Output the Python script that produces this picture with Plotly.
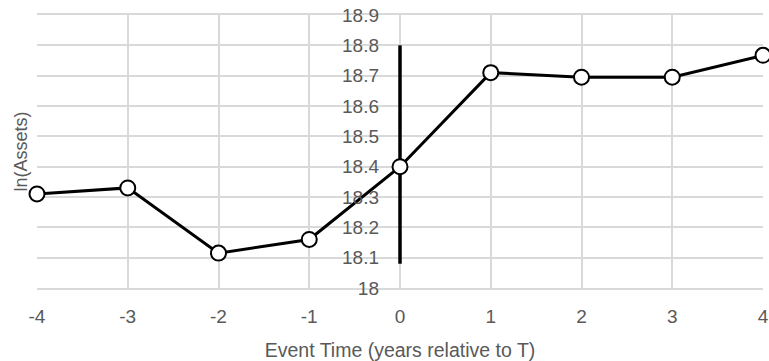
import plotly.graph_objects as go

event_time = [-4, -3, -2, -1, 0, 1, 2, 3, 4]
ln_assets = [18.31, 18.33, 18.115, 18.16, 18.40, 18.71, 18.695, 18.695, 18.767]
vline_x = [0, 0]
vline_y = [18.08, 18.80]
x_ticks = [-4, -3, -2, -1, 0, 1, 2, 3, 4]
x_tick_labels = ["-4", "-3", "-2", "-1", "0", "1", "2", "3", "4"]
y_ticks = [18, 18.1, 18.2, 18.3, 18.4, 18.5, 18.6, 18.7, 18.8, 18.9]
y_tick_labels = ["18", "18.1", "18.2", "18.3", "18.4", "18.5", "18.6", "18.7", "18.8", "18.9"]

FONT = "Liberation Sans, Arial, sans-serif"
GRAY = "#595959"

fig = go.Figure()
fig.add_trace(go.Scatter(x=vline_x, y=vline_y, mode="lines",
                         line=dict(color="black", width=3.5),
                         hoverinfo="skip", showlegend=False))
fig.add_trace(go.Scatter(x=event_time, y=ln_assets, mode="lines+markers",
                         line=dict(color="black", width=3),
                         marker=dict(size=15, color="white",
                                     line=dict(color="black", width=2)),
                         cliponaxis=False, showlegend=False))

fig.update_layout(
    width=769, height=361,
    margin=dict(l=37, r=6, t=15, b=73),
    plot_bgcolor="white", paper_bgcolor="white",
    font=dict(family=FONT, color=GRAY, size=19),
    xaxis=dict(range=[-4, 4], tickvals=x_ticks, ticktext=x_tick_labels,
               showgrid=True, gridcolor="#d9d9d9", gridwidth=1.5,
               zeroline=False, showline=True, linecolor="#d9d9d9",
               linewidth=1.5, ticks="", ticklabelstandoff=10,
               ticklabeloverflow="allow", automargin=False,
               tickfont=dict(size=19, color=GRAY),
               title=dict(text="Event Time (years relative to T)",
                          font=dict(size=19.5, color=GRAY), standoff=19),
               mirror=True),
    yaxis=dict(range=[18, 18.9], tickvals=y_ticks, ticktext=y_tick_labels,
               showgrid=True, gridcolor="#d9d9d9", gridwidth=1.5,
               zeroline=False, showline=False, anchor="free", position=0.5,
               ticks="", ticklabelstandoff=21, automargin=False,
               ticklabeloverflow="allow",
               tickfont=dict(size=19, color=GRAY)),
    annotations=[dict(text="ln(Assets)", xref="paper", yref="paper",
                      x=-0.0234, y=0.5, xanchor="center", yanchor="middle",
                      textangle=-90, showarrow=False,
                      font=dict(size=18, color=GRAY, family=FONT))],
)

fig.write_html(
    "out.html",
    config={"displayModeBar": False},
    post_script="document.body.style.margin='0';document.body.style.overflow='hidden';",
)
